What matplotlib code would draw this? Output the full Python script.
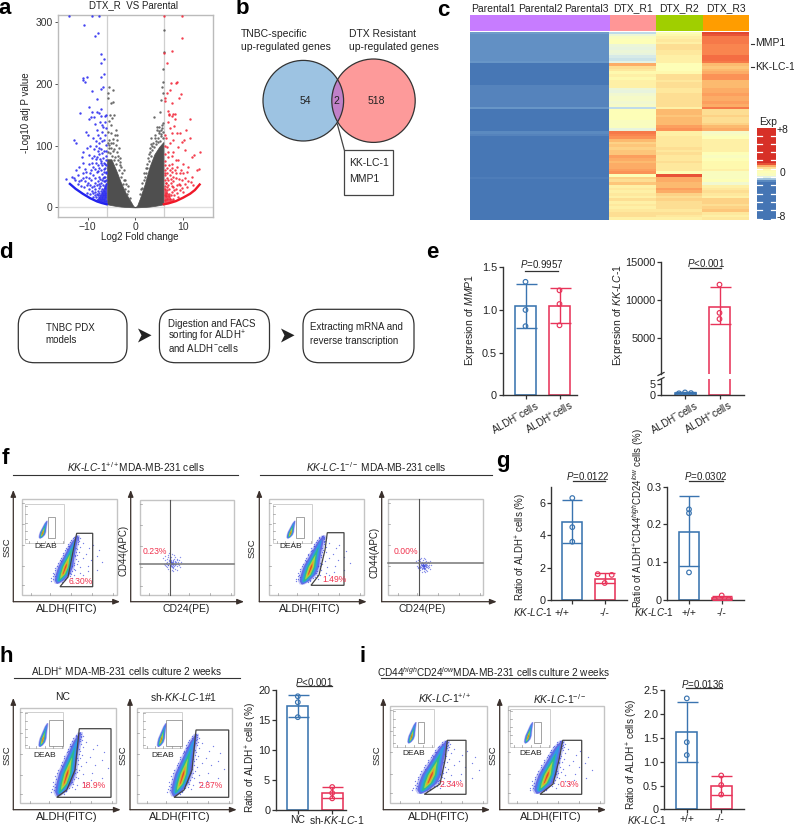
import numpy as np
import matplotlib
matplotlib.use("Agg")
import matplotlib.pyplot as plt
from matplotlib.colors import LinearSegmentedColormap, Normalize
from matplotlib.patches import Circle, FancyBboxPatch, Rectangle, Polygon

plt.rcParams['font.family'] = ['Liberation Sans', 'DejaVu Sans']
plt.rcParams['mathtext.fontset'] = 'custom'
plt.rcParams['mathtext.rm'] = 'Liberation Sans'
plt.rcParams['mathtext.it'] = 'Liberation Sans:italic'
plt.rcParams['mathtext.bf'] = 'Liberation Sans:bold'

W, H = 794, 825
BLUE, RED, INK = '#3a74b0', '#e8345a', '#333333'
FS = 7.5

# ---------- panel a data ----------
volcano_blue = [(-13.8,311),(-9.1,311),(-7.6,311),(-10.7,296),(-7.8,282),(-8.5,278),(-7.1,249),(-6.6,241),(-7.2,234),(-6.6,217),
 (-10.2,212),(-11,210),(-11,207),(-10.5,203),(-7.1,211),(-6.7,195),(-7.1,192),(-9,188),(-8.1,175),(-9.6,163),(-7.2,159),(-11.6,153),
 (-9,155),(-8.1,154),(-7.6,153),(-7.1,148),(-9.3,147),(-6.1,149),(-9.6,143),(-8.6,147),(-7.4,139),(-6.7,130),(-6.4,148),(-7,123),
 (-7.9,118),(-10.4,122),(-9.9,118),(-12.9,109),(-12.4,105),(-8.9,112),(-8.3,108),(-9.4,100),(-6.5,110),(-6.9,107),(-7.6,104),(-6.2,101),
 (-8.7,95),(-7.8,92),(-7.1,95),(-6.5,92),(-10.9,90),(-9.8,85),(-9,80),(-8,82),(-7.4,78),(-6.8,80),(-6.2,76),(-11.7,66),(-11,72),
 (-10.6,62),(-9.7,70),(-8.9,66),(-8.3,72),(-7.6,64),(-6.9,68),(-6.3,63),(-12.4,60),(-11.9,52),(-11,55),(-10.3,50),(-9.4,55),(-8.8,52),
 (-8.1,57),(-7.5,50),(-6.9,54),(-6.3,50),(-14.6,46),(-13.2,50),(-12.6,44),(-11.3,44),(-10.6,42),(-9.9,40),(-9.2,44),(-8.5,40),(-7.8,43),
 (-7.2,40),(-6.6,42),(-6.2,38),(-11.4,34),(-10.7,33),(-9.8,30),(-9.1,33),(-8.4,30),(-7.7,32),(-7,30),(-6.4,31),(-10.2,24),(-9.5,22),
 (-8.8,24),(-8.1,22),(-7.5,24),(-6.9,23),(-6.3,24),(-8.9,16),(-8.3,17),(-7.6,16),(-7,17),(-6.4,16),(-7.8,12),(-7.2,11),(-6.6,11),(-6.2,10),
 (-6.1,58),(-6.5,57),(-6.2,45),(-6.8,47),(-7.3,46),(-8.4,47),(-6.1,68),(-6.6,72),(-7.2,61),(-7.9,59),(-9.3,61),(-8.6,84),(-7.5,87),(-6.2,84),
 (-10.1,96),(-11.2,82),(-7.3,112),(-8,126),(-6.9,134),(-8.5,135),(-6.3,118),(-6.1,128),(-6.4,138),
 (-6.2,55),(-6.6,50),(-7,45),(-6.3,43),(-6.8,37),(-7.3,34),(-6.3,35),(-7.7,38),(-8.1,36),(-8.7,34),(-9.4,37),(-10.2,36),(-6.6,27),(-7.2,27),(-7.8,27),
 (-8.4,25),(-9.1,27),(-6.3,20),(-6.8,20),(-7.3,20),(-7.9,20),(-8.5,20),(-6.6,14),(-7,13),(-7.4,14),(-7.2,72),(-6.6,62),(-7.9,68),(-8.5,62),(-9.1,72),(-8.2,78),
 (-10.3,57),(-9.6,47),(-11.8,42),(-10.9,48),(-12.1,38),(-12.9,47),(-6.9,88),(-7.5,96),(-8.2,100),(-6.4,70),(-6.2,92),(-7.1,75)]
volcano_red = [(9.9,311),(6,311),(9.7,275),(7.6,254),(6,251),(6.7,234),(8.7,203),(8.6,201),(7.5,201),(7.3,190),(6.6,185),(9.5,184),(9.2,178),
 (6.2,177),(6.3,173),(7.6,170),(6.9,156),(7.1,152),(8.3,152),(7.6,148),(11.5,144),(7,150),(8,152),(8.3,144),(6.9,139),(9.4,120),(8.7,121),
 (7.6,120),(10.6,126),(11.5,113),(10.3,109),(13.6,89),(12.4,85),(11.8,82),(12.9,60),(13.3,62),(9.7,106),(9,98),(7.3,104),(6.6,98),(8,90),
 (10.4,93),(6.9,82),(9,77),(7.6,71),(10,71),(11.1,66),(6.6,63),(8.3,60),(9.4,55),(7.3,52),(11.8,50),(10.4,47),(6.6,47),(8,42),(9.4,36),
 (6.9,36),(10.8,33),(7.6,25),(8.7,23),(10,25),(6.6,28),(6.2,60),(6.3,52),(6.2,45),(6.5,40),(6.2,35),(6.4,24),(6.2,20),(7,18),(7.4,40),(7.9,33),
 (8.5,48),(9.1,46),(9.8,44),(8.8,65),(7.8,58),(7,68),(6.3,75),(6.8,90),(6.2,86),(7.7,84),(8.5,76),(9.6,60),(10.9,58),(11.6,41),(12.2,37),(11,42),
 (9.3,28),(8.2,20),(9,16),(7.3,14),(6.6,13),(6.2,12),(7.9,13),(6.3,100),(7.2,128),(8.2,132),(6.5,112),(6.2,118),(7.9,110),
 (6.3,30),(6.7,33),(7.1,30),(7.6,34),(8.1,28),(8.6,30),(6.4,40),(6.9,44),(7.4,46),(8,49),(6.2,55),(6.7,56),(7.3,60),(6.3,68),(7.6,64),(8.6,55),(9.2,38),(9.9,32),
 (10.4,38),(7,22),(7.4,20),(6.5,18),(8.8,36),(10.1,55)]
volcano_gray = [(-5.5,195),(-4.6,190),(-5.7,185),(-5,169),(-4.6,171),(-5.8,178),(-5.3,150),(-4.4,150),(-5,120),(-3.9,117),(-4.6,111),(-5.7,123),
 (-5.1,133),(-4.1,125),(-5.5,140),(-4.8,145),(-4.3,118),(-3.8,110),(-4.6,104),(-5.4,110),(-5.6,101),(-4.1,101),(-3.4,96),(-5,96),(-3.9,90),
 (-4.6,92),(-5.7,90),(-3.2,80),(-3.6,84),(-2.9,66),(-2.4,60),(-3.1,74),(-5.2,88),(-4.8,84),(-4.2,82),(-3.7,76),(-3.3,68),(-2.7,56),(-2.3,44),(-1.9,38),(-1.5,27),
 (-4.5,76),(-4,70),(-3.5,60),(-3,50),(-2.6,38),(-2.2,30),(-1.7,22),(-1.2,15),(-5.4,96),(-5.8,105),(-5.1,104),(-4.4,95),
 (6,288),(5.9,224),(6.1,252),(5.9,203),(5.7,196),(5.9,185),(5.3,174),(5.2,155),(3.9,146),(4.5,125),(5.7,128),(5,131),(5.9,136),(4.7,113),(4.1,117),
 (5.4,119),(3.4,112),(3.8,105),(4.4,103),(5.2,108),(5.9,112),(3.1,96),(3.6,93),(2.6,80),(2.9,86),(2.2,64),(1.9,56),(2.4,70),(1.5,40),(1.2,30),(-1.6,34),(-2.1,44),
 (2.8,75),(3.3,84),(3.9,98),(4.3,108),(4.9,120),(5.5,126),(2.3,55),(1.8,44),(1.4,32),(1.1,22),(3,90),(3.6,100),(4.2,112),(5,124),(5.6,134),(4.6,130),(3.2,102),
 (2.5,64),(2.1,50),(5.8,122),(5.3,116),(4.8,106)]
arc_left_x  = [-13.7,-12.5,-11,-9.5,-8,-7,-6]
arc_left_y  = [38,30,22,15,9.5,7,5]
arc_right_x = [6,7,8.5,10,11.5,12.5,13.5]
arc_right_y = [5,6.5,10,15.5,22,28,37]
gray_x   = [-5.9,-5,-4,-3,-2,-1,-0.4,0,0.4,1,2,3,4,5,5.9]
gray_top = [78,78,60,40,23,10,2,0,3,15,38,66,86,98,106]
gray_low = [5,3.5,2.2,1.2,.6,.2,0,0,0,.2,.6,1.2,2.2,3.5,5]
blue_core_x, blue_core_low, blue_core_top = [-8.5,-7.5,-6.8,-6], [11,8,6.5,5], [11,18,30,42]
red_core_x, red_core_low, red_core_top = [6,6.8,7.5,8.5], [5,6,8,11], [34,24,14,11]

# ---------- panel c data (rows top to bottom) ----------
heat_parental = [-.62]+[-.74]*10+[-.68]+[-.95]*8+[-.85]*8+[-.65]+[-.95]*8+[-.8,-.82]+[-1]*15+[-.88]+[-1]*15
heat_r1 = [-.3,.05,.2,.25,.25,.05,-.02,0,-.02,-.15,-.25,-.1,.75,.55,.45,.35,.4,.35,.38,.42,.4,0,-.02,.12,.15,.15,.12,.15,-.3,.25,.3,.3,.28,.2,.22,.2,-.05,
           1.0,.95,.9,.7,.62,.65,.6,.65,.65,.85,.8,.7,.8,.75,.85,.9,.28,.6,.55,.68,.4,.45,.42,.45,.4,.5,.4,.45,.4,.48,.52,.5,.4]
heat_r2 = [.3,.32,.38,.45,.42,.5,.5,.48,.45,.42,.42,.38,.28,.3,.26,.35,.5,.5,.45,.52,.5,.48,.45,.5,.52,.5,.52,.55,.38,.7,.72,.68,.7,.72,.72,.85,.9,
           .4,.38,.45,.48,.45,.48,.5,.47,.5,.47,.46,.5,.48,.46,.47,.25,1.2,.75,.78,.72,.7,.85,.78,.58,.55,.6,.55,.52,.5,.48,.5,.45,.42]
heat_r3 = [1.25,1.2,1.0,1.05,1.0,.95,.95,.98,.95,1.1,1.12,1.05,.7,.68,.7,.75,.9,.88,.7,.72,.7,.8,.8,.82,.78,.8,.82,.8,1.05,.5,.5,.6,.55,.52,.6,.7,.8,
           .15,.2,.25,.4,.38,.42,.4,.4,.25,.2,.28,.35,.34,.32,.38,.22,.2,.22,.25,.1,.42,.45,.5,.45,.42,.58,.6,.55,.62,.65,.45,.42,.48]
heat_labels = ['Parental1','Parental2','Parental3','DTX_R1','DTX_R2','DTX_R3']
group_colors = ['#c77cff','#c77cff','#c77cff','#ff9696','#a0cf00','#ff9d00']
cbar_values = [2]*18+[1.2,.8,.5,.35,.3,.2,-.1,-.4,-.8]+[-2]*19
heat_nodes = [(-8,'#4575b4'),(-1,'#4575b4'),(-.6,'#6f9ccb'),(-.3,'#bcd9ea'),(-.1,'#e3f2e6'),(.1,'#f2f9d0'),(.3,'#ffffb5'),(.5,'#fee59a'),
              (.7,'#fdbf72'),(.9,'#fc9457'),(1.1,'#f46d43'),(1.4,'#d73027'),(8,'#d73027')]

# ---------- bar panels ----------
e1_mean, e1_lo, e1_hi = [1.05,1.05], [.79,.845], [1.31,1.255]
e1_pts = [[1.33,1.0,.81],[1.23,1.07,.82]]
e2_mean, e2_lo, e2_hi = [1.1,9100], [.9,6800], [1.3,11700]
e2_pts = [[.9,1.3,1.0],[12000,8300,7500]]
g1_mean, g1_lo, g1_hi = [4.8,1.3], [3.5,1.05], [6.2,1.65]
g1_pts = [[6.3,4.5,3.6],[1.6,1.55,1.05]]
g2_mean, g2_lo, g2_hi = [.18,.005], [.09,0], [.275,.011]
g2_pts = [[.24,.23,.073],[.012,.002,.002]]
h_mean, h_lo, h_hi = [17.3,2.8], [15.5,1.9], [19.2,3.8]
h_pts = [[19,18,15.5],[3.8,2.8,1.9]]
i_mean, i_lo, i_hi = [1.62,.5], [1.0,.3], [2.26,.71]
i_pts = [[2.33,1.41,1.14],[.71,.51,.31]]

# ---------- flow cytometry shapes (fractions of each population's box) ----------
ridge_shape = [(0,0,.03),(.1,.07,.22),(.28,.2,.34),(.42,.36,.36),(.53,.5,.29),(.68,.68,.21),(.84,.86,.14),(1,1,.03)]
speck_ridge = [(.1,1.3),(.2,1.5),(.25,1.9),(.3,2.4),(.35,1.6),(.4,2.1),(.45,1.5),(.5,1.8),(.55,2.6),(.6,1.6),(.65,2),(.7,1.4),(.75,2.2),(.8,1.5),(.85,1.8),
 (.9,1.5),(.22,-1.3),(.3,-1.4),(.38,-1.3),(.46,-1.25),(.55,-1.3),(.63,-1.35),(.72,-1.4),(.8,-1.5),(.88,-1.6),(.95,-2),(.15,-1.6),(.08,-2),(.05,1.8),(.32,3.4),
 (.42,3.1),(.52,3.9),(.62,3.4),(.72,4.5),(.82,3),(.92,2.6),(.48,5.4),(.68,6.5),(.35,4.6),(.58,5.2),(.78,5.8),(.25,3.2),(.15,2.4),(.96,1.4),(.98,-1),(.42,.95),
 (.5,-.98),(.6,1.1),(.7,-1.05),(.3,1.05),(.2,-1.05),(.87,1.2),(.77,-1.1),(.12,1.15),(.18,1.2),(.27,1.25),(.33,1.15),(.37,1.3),(.43,1.2),(.47,1.1),(.53,1.35),(.58,1.25),
 (.66,1.3),(.73,1.15),(.83,1.3),(.93,1.2),(.14,-1.2),(.26,-1.15),(.34,-1.2),(.42,-1.15),(.52,-1.2),(.6,-1.15),(.68,-1.25),(.76,-1.2),(.84,-1.3),(.92,-1.3)]
speck_cloud = [(.2,.4),(1.1,-.8),(-1.3,.7),(.9,1.4),(-.6,-1.5),(2.2,.3),(-2.1,-.4),(.3,2.5),(-.2,-2.7),(1.9,1.8),(-2.4,1.6),(2.6,-1.9),(-1.7,-2.3),(3.3,.8),(-3.2,.4),
 (3.1,-.9),(-3.6,-1.2),(1.2,3.4),(-1.4,3.1),(1.6,-3.5),(-.9,-3.7),(4.4,.2),(-4.3,-.3),(.4,4.6),(-.3,-4.8),(4.1,2.3),(-4.5,2.1),(3.9,-3.1),(-3.8,-3.5),(2.3,4.2),(-2.7,3.9),
 (2.8,-4.4),(-2.9,-4.6),(5.3,1.1),(-5.4,.7),(5.2,-2.2),(-5.1,-2.6),(1.3,5.4),(-1.2,5.9),(1.8,-5.8),(-3.1,-6),(6.2,2.7),(-6.3,-3.9),(3.7,5.1),(-4.9,-5.6),(6.8,-.9),(-1.8,-7.4),
 (.2,-6.9),(5.8,-4.6),(.7,.2),(-.5,.9),(.6,-.4),(-.8,-.3),(1.5,.6),(-1.6,-.9),(.4,1.7),(-.4,-1.1),(1.3,-1.6),(-1.1,1.9),(2.7,1.2),(-2.6,.9),(2.3,-.8),(-2.2,-1.5),(.9,-2.4),
 (-1.2,-2.9),(.8,3),(-.7,2.2),(3.6,-2.4),(-3.4,2.5),(4.8,-1),(-4.7,1.2),(-.1,.1),(.3,-.2),(-.3,.3),(0,-.6),(.5,.7),(-.7,-.7)]
density_layers = [('#8e94f0',1.22,.55),('#4a55e0',1.0,.8),('#2aa0e8',.74,.85),('#2cc27e',.52,.85),('#c4dc30',.33,.85),('#f2932a',.19,.85),('#e23a22',.09,.85)]

fig = plt.figure(figsize=(W/100, H/100), dpi=100)

def axpx(l, t, r, b, **kw):
    return fig.add_axes([l/W, 1-b/H, (r-l)/W, (b-t)/H], **kw)

ov = fig.add_axes([0, 0, 1, 1], zorder=5, facecolor='none')
ov.set_xlim(0, W); ov.set_ylim(H, 0); ov.axis('off')

def T(x, y, s, size=FS, ha='center', va='center', color='#222222', **kw):
    return ov.text(x, y, s, fontsize=size, ha=ha, va=va, color=color, **kw)

for lab, x, y in [('a',5,9),('b',242,9),('c',443,10),('d',6,253),('e',432,253),('f',5,459),('g',503,462),('h',6,656),('i',363,656)]:
    T(x, y, lab, size=16, weight='bold', color='black')

KK = r"$\mathit{KK}$-$\mathit{LC}$-$\mathit{1}$"

# ---------- a: volcano ----------
ax = axpx(57.5, 15, 213, 217)
ax.set_xlim(-16.3, 16.3); ax.set_ylim(-15.7, 312)
ax.axhline(0, color='#dddddd', lw=1, zorder=0)
ax.axvline(-5.9, color='#cfcfcf', lw=.9, zorder=0); ax.axvline(6, color='#cfcfcf', lw=.9, zorder=0)
ax.fill_between(gray_x, gray_low, gray_top, color='#4f4f4f', lw=.5, zorder=2)
ax.fill_between(blue_core_x, blue_core_low, blue_core_top, color='#2a2ae8', alpha=.85, lw=0, zorder=2)
ax.fill_between(red_core_x, red_core_low, red_core_top, color='#f02838', alpha=.8, lw=0, zorder=2)
ax.plot(arc_left_x, arc_left_y, color='#2222ee', lw=1.7, zorder=3)
ax.plot(arc_right_x, arc_right_y, color='#f01828', lw=1.7, zorder=3)
for pts, c in [(volcano_gray,'#5a5a5a'), (volcano_blue,'#2f2ff0'), (volcano_red,'#f22a3c')]:
    a = np.array(pts)
    ax.scatter(a[:,0], a[:,1], s=3.0, color=c, lw=0, alpha=.9, zorder=3)
ax.set_xticks([-10,0,10]); ax.set_yticks([0,100,200,300])
ax.tick_params(length=2, width=.7, labelsize=FS, pad=1.5, color='#555555', labelcolor='#333333')
for s in ax.spines.values():
    s.set_color('#bbbbbb'); s.set_linewidth(1)
T(133.3, 5.5, 'DTX_R  VS Parental', size=7)
T(140, 237, 'Log2 Fold change', size=7)
T(26, 113, '-Log10 adj P value', size=7, rotation=90)

# ---------- b: venn ----------
c1 = Circle((303.3,100.7), 40.3, fc='#9dc3e2', ec='none', zorder=1)
c2 = Circle((373.5,100.7), 41.7, fc='#fd9a9a', ec='none', zorder=1)
ov.add_patch(c1); ov.add_patch(c2)
ov.add_patch(Circle((303.3,100.7), 40.3, fc='none', ec='#333333', lw=.9, zorder=3))
ov.add_patch(Circle((373.5,100.7), 41.7, fc='none', ec='#333333', lw=.9, zorder=3))
lens = Circle((303.3,100.7), 40.3, fc='#c080c8', ec='none', zorder=2)
ov.add_patch(lens); lens.set_clip_path(Circle((373.5,100.7), 41.7, transform=ov.transData))
T(305.7,101,'54'); T(336.3,101,'2'); T(376.7,101,'518')
T(241,34,'TNBC-specific',ha='left'); T(241,47.3,'up-regulated genes',ha='left')
T(349.3,34,'DTX Resistant',ha='left'); T(349.3,47.3,'up-regulated genes',ha='left')
ov.add_patch(Rectangle((344.3,150),48.4,45.3,fc='white',ec='#444444',lw=.9))
ov.plot([337.3,344.3],[124,150],color='#444444',lw=.9)
T(349.3,163.5,'KK-LC-1',ha='left'); T(349.3,179,'MMP1',ha='left')

# ---------- c: heatmap ----------
cmap = LinearSegmentedColormap.from_list('exp', [((v+8)/16, c) for v, c in heat_nodes])
norm = Normalize(-8, 8)
M = np.column_stack([heat_parental, heat_parental, heat_parental, heat_r1, heat_r2, heat_r3])
ax = axpx(470.3, 32, 749, 220); ax.axis('off')
ax.imshow(M, cmap=cmap, norm=norm, aspect='auto', interpolation='nearest')
ax = axpx(470.3, 14.7, 749, 30.7); ax.axis('off')
for k, c in enumerate(group_colors):
    ax.bar(k, 1, width=1, color=c, lw=0)
ax.set_xlim(-.5, 5.5); ax.set_ylim(0, 1)
for k, s in enumerate(heat_labels):
    T(470.3+46.45*(k+.5), 8.5, s)
ov.plot([751,753.5],[43.5,43.5],color='#333333',lw=.8); T(755,43.5,'MMP1',ha='left')
ov.plot([751,753.5],[67,67],color='#333333',lw=.8); T(755,67,'KK-LC-1',ha='left')
ax = axpx(757.3, 127.7, 775.7, 220); ax.axis('off')
ax.imshow(np.array(cbar_values)[:,None], cmap=cmap, norm=norm, aspect='auto', interpolation='nearest')
for y in np.arange(135.5, 220, 8.3):
    ov.plot([757.3,762],[y,y],color='white',lw=.9); ov.plot([771,775.7],[y,y],color='white',lw=.9)
T(767.7,121.7,'Exp'); T(777,129.7,'+8',ha='left'); T(780,173,'0',ha='left'); T(777,217,'-8',ha='left')

# ---------- d: workflow ----------
for x0, x1 in [(18.3,127),(159.4,269.5),(303,414)]:
    ov.add_patch(FancyBboxPatch((x0+13,309.3+13),x1-x0-26,53.4-26,boxstyle='round,pad=13,rounding_size=16',fc='white',ec='#333333',lw=.9))
for x0 in (138,281):
    ov.add_patch(Polygon([(x0,328.5),(x0+13.5,335.3),(x0,342.5),(x0+3.5,335.3)],fc='#222222',ec='none'))
dfs = 7
T(45.7,327.7,'TNBC PDX',size=dfs,ha='left'); T(45.7,340.3,'models',size=dfs,ha='left')
T(168,323.7,'Digestion and FACS',size=dfs,ha='left'); T(168,336.3,r'sorting for ALDH$^{+}$',size=dfs,ha='left'); T(168,348.3,r'and ALDH$^{-}$cells',size=dfs,ha='left')
T(310,327.3,'Extracting mRNA and',size=dfs,ha='left'); T(310,340.7,'reverse transcription',size=dfs,ha='left')

# ---------- bar helper ----------
def bars(rect, ylim, yticks, yticklabels, centers, width, mean, lo, hi, pts, offs=((0,0,0),(0,0,0)), ms=11, show_pts=(True,True)):
    l, t, r, b = rect
    ax = axpx(l, t, r, b, facecolor='none')
    ax.set_xlim(l, r); ax.set_ylim(*ylim)
    for k in range(2):
        c = (BLUE, RED)[k]
        if not show_pts[k]:
            ax.bar(centers[k], mean[k], width=width, fc='white', ec=c, lw=1.15, zorder=2)
            continue
        ax.bar(centers[k], mean[k], width=width, fc='white', ec=c, lw=1.15, zorder=2)
        ax.errorbar(centers[k], mean[k], yerr=[[mean[k]-lo[k]],[hi[k]-mean[k]]], color=c, lw=1, capsize=width*.36, capthick=1, zorder=3)
        ax.scatter(np.array(centers[k])+np.array(offs[k]), pts[k], s=ms, fc='none', ec=c, lw=.85, zorder=4)
    ax.set_xticks(centers); ax.set_xticklabels([])
    ax.set_yticks(yticks); ax.set_yticklabels(yticklabels)
    ax.tick_params(length=3, width=.9, labelsize=FS+.3, pad=1, color=INK, labelcolor='#222222')
    for s in ('top','right'):
        ax.spines[s].set_visible(False)
    for s in ('left','bottom'):
        ax.spines[s].set_color(INK); ax.spines[s].set_linewidth(1)
    return ax

def pval(x, y, s, x0, x1, yl):
    T(x, y, s, size=7); ov.plot([x0,x1],[yl,yl],color='#333333',lw=.9)

# e
bars((502.5,267.3,577,395.3),(0,1.5),[0,.5,1,1.5],['0','0.5','1.0','1.5'],[525.5,559.5],21,e1_mean,e1_lo,e1_hi,e1_pts)
pval(542,264,r'$\mathit{P}$=0.9957',525.4,558,270.7)
T(470,320,r'Expresion of $\mathit{MMP1}$',rotation=90)
ax = bars((661,261.7,743.6,374),(300,15000),[5000,10000,15000],['5000','10000','15000'],[685,719.5],21,e2_mean,e2_lo,e2_hi,e2_pts,show_pts=(False,True))
ax.spines['bottom'].set_visible(False); ax.tick_params(axis='x', length=0)
ax = bars((661,379,743.6,395.3),(0,7.4),[0,5],['0','5'],[685,719.5],21,e2_mean,e2_lo,e2_hi,e2_pts,offs=((-6,0,6),(0,0,0)),show_pts=(True,False))
pval(705.6,262.7,r'$\mathit{P}$<0.001',690,721,268.3)
T(617.7,315,r'Expresion of $\mathit{KK}$-$\mathit{LC}$-$\mathit{1}$',rotation=90)
ov.plot([658,664],[375.5,372.5],color=INK,lw=.9); ov.plot([658,664],[380.5,377.5],color=INK,lw=.9)
for x, sgn in [(535,'-'),(569,'+'),(694,'-'),(728,'+')]:
    T(x,399.5,r'ALDH$^{%s}$cells'%sgn,ha='right',va='top',rotation=30,rotation_mode='anchor',size=7.2)

# g
bars((551,486.7,626.7,600),(0,7),[0,2,4,6],['0','2','4','6'],[572.3,604.7],20,g1_mean,g1_lo,g1_hi,g1_pts,offs=((0,0,0),(-7,7,0)))
pval(588,476,r'$\mathit{P}$=0.0122',572.5,605,480.5)
T(521,547,r'Ratio of ALDH$^{+}$ cells (%)',rotation=90,size=7)
bars((667.3,486.7,744,600),(0,.3),[0,.1,.2,.3],['0','0.1','0.2','0.3'],[689,721.7],20,g2_mean,g2_lo,g2_hi,g2_pts,offs=((0,0,0),(0,-7,7)))
pval(706,476,r'$\mathit{P}$=0.0302',689,723,480.5)
T(638,518,r'Ratio of ALDH$^{+}$CD44$^{high}$CD24$^{low}$ cells (%)',rotation=90,size=6.9)
T(533,612.5,KK,size=7.2); T(562,612.5,'+/+'); T(604.7,612.5,'-/-')
T(654,612.5,KK,size=7.2); T(689,612.5,'+/+'); T(721.7,612.5,'-/-')

# h, i bars
bars((275.7,690.3,345.7,809.7),(0,20),[0,5,10,15,20],['0','5','10','15','20'],[297.8,332.2],21,h_mean,h_lo,h_hi,h_pts)
pval(314.5,681.5,r'$\mathit{P}$<0.001',297,332,686)
T(251.5,758,r'Ratio of ALDH$^{+}$ cells (%)',rotation=90,size=7.2)
T(298,820,'NC'); T(337,820,r'sh-'+KK)
bars((663.7,690.3,744,809.3),(0,2.5),[0,.5,1,1.5,2,2.5],['0','0.5','1.0','1.5','2.0','2.5'],[686.8,721.2],21,i_mean,i_lo,i_hi,i_pts)
pval(703,683.5,r'$\mathit{P}$=0.0136',685.5,722,687.5)
T(632.3,755,r'Ratio of ALDH$^{+}$ cells (%)',rotation=90,size=7.2)
T(647,819.5,KK,size=7.2); T(686.8,819.5,'+/+'); T(719.5,819.5,'-/-')

# ---------- flow helpers ----------
R = np.array(ridge_shape)
def blob(x0, y0, x1, y1, speck=True, k=1.0, z=6):
    bw = (x1-x0)
    xs = x0 + R[:,0]*bw; ws = R[:,2]*bw*k
    u = np.linspace(0, 1, 40)
    yy = y0 + np.interp(u, R[:,0], R[:,1])*(y1-y0)
    xx = x0 + u*bw
    ww = np.interp(u, R[:,0], ws)
    wm = ww.max()
    for c, f, al in density_layers:
        w = ww-(1-f)*wm
        m = w > 0
        if m.sum() > 1:
            ov.fill_betweenx(yy[m], xx[m]-w[m], xx[m]+w[m], color=c, lw=0, alpha=al, zorder=z)
    if speck:
        S = np.array(speck_ridge)
        sx = np.interp(S[:,0], R[:,0], xs) + S[:,1]*np.interp(S[:,0], R[:,0], ws)
        sy = y0 + np.interp(S[:,0], R[:,0], R[:,1])*(y1-y0)
        ov.scatter(sx, sy, s=.9, color='#3a48dd', lw=0, alpha=.7, zorder=z)

def frame(l, t, r, b, ec='#c4c4c4', lw=1, ticks=True):
    ov.add_patch(Rectangle((l,t),r-l,b-t,fc='white',ec=ec,lw=lw,zorder=4))
    if ticks:
        for f in (.1,.3,.52,.74,.96):
            ov.plot([l+f*(r-l)]*2,[b-2,b],color='#999999',lw=.5,zorder=5)
            ov.plot([l,l+2],[b-f*(b-t)]*2,color='#999999',lw=.5,zorder=5)

def axes_arrows(x, ybot, ytop, xend):
    for tip in [(x,ytop),(xend,ybot)]:
        ov.annotate('',xy=tip,xytext=(x,ybot),arrowprops=dict(arrowstyle='-|>,head_width=.16,head_length=.4',color='#3a302c',lw=.9,shrinkA=0,shrinkB=0),zorder=7)

def aldh_panel(x, ytop, ybot, xend, fr, ins, gate, box, pct, pct_xy, deab_xy, igate, ibox, ssc_xy, label_xy):
    axes_arrows(x,ybot,ytop,xend)
    frame(*fr)
    blob(*box)
    frame(*ins,ec='#cfcfcf',lw=.7)
    l,t,r,b = ins
    blob(l+ibox[0]*(r-l),t+ibox[1]*(b-t),l+ibox[2]*(r-l),t+ibox[3]*(b-t),speck=False,k=1.1,z=6)
    ov.add_patch(Rectangle((l+igate[0]*(r-l),t+igate[1]*(b-t)),(igate[2]-igate[0])*(r-l),(igate[3]-igate[1])*(b-t),fc='none',ec='#8a8a8a',lw=.55,zorder=7))
    ov.add_patch(Polygon(gate,closed=True,fc='none',ec='#444444',lw=.9,zorder=7))
    T(*pct_xy,pct,size=6.2,color='#f0334e',zorder=8)
    T(*deab_xy,'DEAB',size=6,zorder=8)
    T(*ssc_xy,'SSC',size=6.8,rotation=90)
    T(*label_xy,'ALDH(FITC)',size=8)

def quad_panel(x, ytop, ybot, xend, fr, vx, hy, cx, cy, pct, pct_xy, lab_xy, ylab_xy, spread=1.35):
    axes_arrows(x,ybot,ytop,xend)
    frame(*fr)
    C = np.array(speck_cloud)
    ov.scatter(cx+C[:,0]*spread, cy+C[:,1]*spread, s=1.0, color='#3a48dd', lw=0, alpha=.6, zorder=6)
    ov.plot([vx,vx],[fr[1],fr[3]],color='#555555',lw=.8,zorder=7)
    ov.plot([fr[0],fr[2]],[hy,hy],color='#777777',lw=1.1,zorder=7)
    T(*pct_xy,pct,size=6.2,color='#f0334e',zorder=8)
    T(*lab_xy,'CD24(PE)',size=7.5)
    T(*ylab_xy,'CD44(APC)',size=7,rotation=90)

# f
ov.plot([13,238],[475,475],color='#333333',lw=.8); ov.plot([259.7,491.7],[475,475],color='#333333',lw=.8)
T(136,467,KK+r'$^{+/+}$MDA-MB-231 cells',size=7.3)
T(376,467,KK+r'$^{-/-}$ MDA-MB-231 cells',size=7.3)
aldh_panel(13.3,490,601.7,120,(21.7,499.3,116.7,595),(25,504,64.3,542.7),[(60,586.7),(68,577),(73.3,550),(76.7,533.3),(92.7,533.3),(92.7,586.7)],(56.7,583.3,77.3,535),
           '6.30%',(81,582),(45.7,547),(.59,.34,.76,.89),(.37,.88,.55,.42),(6.7,546.7),(66.7,609))
quad_panel(130.7,490,601.7,244,(140,500,234.3,595),170.3,563.7,171.7,563.3,'0.23%',(155,551),(186,609),(123.3,550))
aldh_panel(259.3,490,601.7,366.7,(268.7,499.3,364,595),(272.7,504,312.3,542.7),[(311,585.3),(319,575),(325,550),(327.3,532.7),(344,532.7),(344,585.3)],(301.7,584,323.3,535),
           '1.49%',(335,580),(291,547),(.6,.34,.78,.89),(.37,.88,.55,.42),(252.3,548),(310,609))
quad_panel(381.7,490,601.7,496.7,(388.3,499.3,483.3,595),419.3,562.7,423.3,565.7,'0.00%',(405.7,551),(421.7,609),(374,552),spread=1.1)

# h
ov.plot([14,240],[678.3,678.3],color='#333333',lw=.8)
T(127,672,r'ALDH$^{+}$ MDA-MB-231 cells culture 2 weeks',size=7.2)
T(62.7,696.5,'NC',size=7.5); T(184,697,'sh-'+KK+'#1',size=7.5)
aldh_panel(13.3,698,809.7,120.7,(20,708,115.7,803.3),(24.7,711.7,63.3,748.3),[(56.7,797.3),(66.7,790),(75,770),(79.3,728.7),(111,728.7),(111,797.3)],(57.3,796,80,731.7),
           '18.9%',(93.3,785),(44.3,755.3),(.64,.23,1,.95),(.38,.95,.58,.3),(6.7,755),(66.7,816.5))
aldh_panel(130,698,809.7,236.7,(137.3,708,232.3,803.3),(143.3,711.7,181.7,748.3),[(174,797.3),(184,790),(192,770),(196,730),(228.7,730),(228.7,797.3)],(173.3,796,196,733.3),
           '2.87%',(211,785.7),(163,755.3),(.6,.23,1,.95),(.38,.95,.58,.3),(123.3,755),(180,816.5))

# i
ov.plot([381,605],[678.3,678.3],color='#333333',lw=.8)
T(493,672,r'CD44$^{high}$CD24$^{low}$MDA-MB-231 cells culture 2 weeks',size=7.2)
T(445,698.5,KK+r'$^{+/+}$',size=7.5); T(560,699.5,KK+r'$^{-/-}$',size=7.5)
aldh_panel(383.3,698,809.7,490,(390,706,487.3,802.7),(393.3,709.3,433.7,746.7),[(424.3,794.3),(440,784),(445,760),(447.3,740.3),(466,740.3),(466,794.3)],(420,793.3,446.7,740),
           '2.34%',(452,784.3),(414,753.7),(.6,.33,.77,.9),(.37,.9,.55,.33),(377,755),(438.3,816.5))
aldh_panel(499.7,698,809.7,606,(507.7,706,603.7,802.7),(510,709.3,550.3,746.7),[(540,794.3),(553,784),(559,760),(562.7,740.3),(581.7,740.3),(581.7,794.3)],(536.7,793.3,561.7,740),
           '0.3%',(569.3,784.3),(531,753.7),(.6,.33,.77,.9),(.37,.9,.55,.33),(493,755),(551,816.5))

fig.savefig('out.png', dpi=100)
